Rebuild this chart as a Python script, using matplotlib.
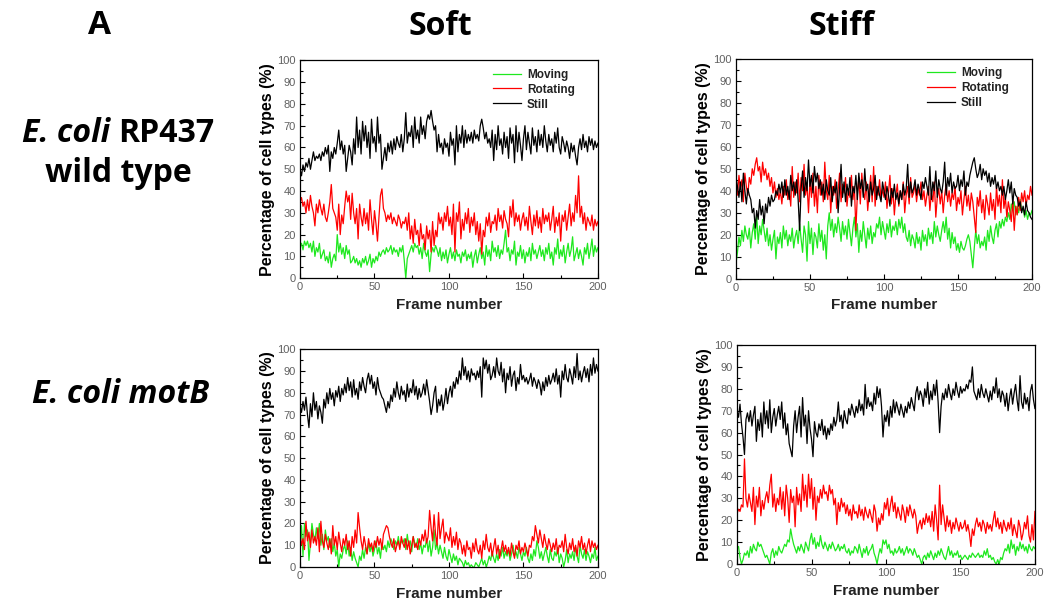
import matplotlib
matplotlib.use("Agg")
import matplotlib.pyplot as plt
import numpy as np
from matplotlib.ticker import MultipleLocator

plt.rcParams["font.family"] = ["Liberation Sans", "DejaVu Sans"]

COLORS = {"Moving": "#1ee81e", "Rotating": "#ff0000", "Still": "#000000"}

# --- Soft, E. coli RP437 wild type (frame 0..200) ---
tl_moving = [
    14, 16, 13, 17, 15, 17, 14, 16, 12, 17,
    10, 14, 12, 16, 9, 11, 13, 8, 10, 7,
    12, 5, 9, 11, 8, 20, 12, 16, 11, 14,
    9, 15, 11, 13, 7, 8, 10, 7, 9, 6,
    8, 5, 9, 7, 10, 6, 8, 11, 5, 9,
    7, 10, 8, 12, 10, 12, 13, 11, 14, 12,
    13, 15, 11, 14, 12, 13, 10, 14, 12, 15,
    8, 0, 9, 11, 13, 15, 12, 16, 14, 15,
    11, 14, 9, 16, 12, 10, 13, 3, 11, 14,
    12, 15, 13, 10, 14, 8, 12, 9, 13, 7,
    11, 14, 9, 12, 8, 13, 10, 11, 7, 12,
    10, 13, 8, 11, 9, 12, 5, 10, 13, 7,
    11, 14, 9, 12, 6, 15, 10, 13, 8, 17,
    12, 14, 10, 15, 9, 13, 11, 16, 22, 12,
    14, 8, 13, 11, 17, 6, 12, 10, 15, 9,
    13, 7, 12, 10, 14, 8, 16, 11, 13, 9,
    12, 15, 10, 13, 8, 14, 11, 16, 9, 12,
    6, 14, 11, 18, 9, 13, 10, 15, 7, 12,
    16, 10, 13, 19, 8, 11, 14, 9, 13, 10,
    6, 14, 11, 16, 9, 13, 18, 10, 15, 12,
    14,
]
tl_rotating = [
    35, 37, 33, 35, 30, 36, 31, 38, 33, 30,
    24, 34, 30, 36, 32, 29, 34, 28, 26, 30,
    35, 43, 32, 30, 28, 22, 34, 20, 29, 25,
    33, 40, 35, 38, 27, 39, 30, 25, 32, 18,
    34, 28, 24, 32, 25, 30, 22, 36, 27, 20,
    31, 25, 17, 28, 38, 41, 32, 30, 26, 29,
    27, 30, 25, 28, 26, 24, 29, 27, 23, 26,
    25, 28, 22, 30, 18, 24, 16, 27, 20, 22,
    15, 25, 18, 20, 13, 24, 18, 22, 12, 26,
    15, 22, 19, 30, 25, 28, 22, 30, 26, 33,
    24, 28, 20, 34, 12, 30, 26, 35, 18, 27,
    22, 30, 25, 32, 21, 28, 24, 30, 20, 26,
    17, 25, 11, 22, 19, 28, 24, 30, 21, 26,
    25, 29, 22, 32, 26, 29, 23, 31, 27, 25,
    19, 33, 28, 36, 24, 30, 26, 29, 22, 27,
    30, 24, 28, 22, 33, 26, 20, 29, 24, 31,
    23, 28, 21, 32, 25, 29, 26, 30, 22, 27,
    33, 21, 28, 24, 30, 17, 29, 26, 31, 22,
    28, 34, 24, 30, 26, 38, 30, 47, 28, 33,
    25, 30, 22, 28, 26, 24, 29, 22, 27, 24,
    26,
]
tl_still = [
    50, 47, 52, 49, 53, 51, 55, 50, 54, 58,
    54, 56, 55, 57, 54, 58, 56, 60, 57, 61,
    49, 58, 55, 60, 57, 62, 68, 59, 63, 57,
    61, 49, 55, 61, 58, 52, 64, 57, 74, 60,
    68, 57, 72, 63, 70, 60, 67, 55, 73, 62,
    65, 58, 74, 62, 66, 50, 55, 60, 54, 62,
    58, 63, 57, 64, 59, 65, 62, 60, 66, 58,
    64, 76, 62, 67, 65, 70, 60, 74, 64, 68,
    62, 74, 66, 70, 64, 72, 75, 73, 77, 72,
    68, 70, 58, 66, 60, 62, 57, 64, 60, 62,
    56, 67, 61, 64, 52, 70, 58, 66, 62, 70,
    60, 68, 62, 66, 63, 67, 62, 68, 64, 66,
    63, 70, 73, 69, 64, 67, 62, 64, 60, 68,
    54, 66, 59, 70, 61, 64, 57, 67, 60, 65,
    55, 69, 62, 66, 53, 70, 58, 67, 61, 54,
    64, 70, 59, 67, 62, 57, 69, 61, 65, 58,
    68, 61, 66, 60, 70, 63, 58, 66, 61, 64,
    58, 67, 62, 69, 60, 57, 65, 62, 58, 63,
    60, 55, 62, 58, 61, 56, 52, 60, 64, 59,
    66, 60, 63, 58, 65, 61, 64, 59, 63, 60,
    62,
]

# --- Stiff, E. coli RP437 wild type ---
tr_moving = [
    7, 12, 19, 15, 22, 17, 24, 20, 18, 23,
    14, 21, 25, 18, 29, 16, 24, 20, 27, 22,
    17, 23, 15, 20, 13, 18, 22, 9, 19, 16,
    21, 14, 24, 18, 22, 15, 20, 17, 23, 14,
    19, 22, 16, 25, 18, 12, 24, 20, 8, 26,
    16, 23, 11, 21, 19, 14, 25, 17, 22, 13,
    20, 9, 24, 30, 22, 27, 19, 25, 21, 28,
    23, 17, 26, 20, 24, 18, 27, 21, 15, 23,
    28, 19, 25, 12, 22, 17, 26, 20, 14, 23,
    18, 24, 16, 21, 19, 25, 23, 28, 20, 26,
    22, 18, 25, 21, 27, 19, 24, 22, 26, 20,
    27, 23, 28, 21, 25, 19, 17, 22, 15, 20,
    18, 14, 21, 16, 19, 13, 22, 17, 20, 15,
    23, 18, 21, 16, 26, 19, 24, 20, 17, 22,
    26, 21, 28, 18, 23, 14, 21, 16, 19, 13,
    16, 12, 17, 14, 13, 15, 18, 20, 17, 11,
    5, 14, 22, 16, 20, 14, 17, 15, 19, 13,
    22, 17, 24, 19, 16, 22, 25, 19, 26, 23,
    27, 24, 28, 26, 30, 27, 34, 31, 35, 29,
    33, 30, 36, 31, 32, 28, 31, 27, 30, 29,
    31,
]
tr_rotating = [
    44, 38, 47, 41, 45, 35, 48, 42, 38, 46,
    43, 50, 47, 52, 55, 49, 51, 44, 53, 47,
    50, 45, 48, 42, 46, 39, 44, 37, 41, 36,
    40, 34, 42, 38, 45, 36, 40, 33, 51, 37,
    44, 39, 48, 35, 46, 40, 52, 38, 43, 30,
    45, 37, 48, 33, 42, 30, 47, 38, 44, 35,
    53, 40, 36, 47, 30, 42, 38, 45, 32, 40,
    48, 35, 43, 39, 46, 33, 41, 37, 47, 36,
    42, 22, 38, 46, 34, 48, 40, 36, 44, 31,
    39, 47, 35, 51, 33, 42, 38, 45, 36, 41,
    37, 44, 32, 39, 47, 34, 41, 29, 38, 43,
    33, 40, 36, 44, 30, 38, 42, 34, 46, 37,
    39, 43, 35, 41, 38, 44, 36, 40, 33, 38,
    42, 31, 39, 35, 44, 28, 37, 41, 34, 40,
    30, 38, 43, 35, 40, 33, 39, 36, 42, 31,
    37, 34, 40, 29, 36, 42, 33, 38, 31, 39,
    35, 28, 21, 37, 33, 40, 30, 36, 27, 38,
    34, 29, 39, 31, 36, 27, 42, 33, 38, 30,
    45, 32, 37, 28, 35, 31, 26, 36, 22, 33,
    29, 37, 31, 39, 35, 40, 33, 38, 36, 42,
    38,
]
tr_still = [
    46, 42, 37, 44, 35, 48, 40, 34, 41, 38,
    36, 30, 32, 23, 31, 27, 36, 29, 33, 25,
    34, 30, 37, 33, 38, 35, 36, 40, 38, 43,
    39, 44, 37, 45, 38, 42, 36, 47, 40, 44,
    38, 45, 36, 22, 41, 49, 37, 46, 40, 54,
    42, 47, 39, 51, 44, 48, 41, 45, 38, 43,
    36, 45, 40, 38, 46, 35, 42, 39, 44, 30,
    41, 52, 37, 44, 35, 43, 38, 46, 33, 42,
    39, 47, 36, 48, 41, 45, 37, 50, 40, 43,
    35, 44, 38, 41, 47, 36, 42, 38, 35, 44,
    40, 36, 42, 38, 33, 41, 37, 43, 36, 39,
    34, 40, 36, 43, 38, 41, 52, 37, 44, 39,
    41, 45, 38, 43, 40, 36, 44, 41, 46, 42,
    38, 51, 36, 44, 40, 49, 37, 45, 41, 39,
    44, 53, 38, 46, 42, 48, 39, 44, 41, 42,
    47, 40, 45, 42, 49, 38, 44, 42, 47, 50,
    53, 55, 50, 46, 48, 52, 45, 50, 47, 49,
    44, 48, 42, 46, 43, 47, 41, 44, 40, 42,
    38, 42, 36, 40, 45, 39, 44, 34, 41, 38,
    37, 33, 35, 30, 33, 29, 35, 31, 30, 28,
    27,
]

# --- Soft, E. coli motB ---
bl_moving = [
    10, 19, 5, 20, 14, 17, 3, 11, 20, 15,
    12, 18, 13, 20, 10, 15, 8, 17, 12, 14,
    9, 13, 7, 11, 5, 8, 0, 6, 4, 8,
    10, 6, 12, 5, 9, 3, 7, 4, 2, 0,
    5, 3, 8, 4, 9, 6, 11, 7, 10, 5,
    8, 12, 6, 9, 4, 11, 8, 10, 7, 12,
    9, 13, 11, 8, 12, 10, 14, 9, 12, 11,
    13, 8, 15, 10, 12, 7, 14, 11, 9, 13,
    8, 11, 6, 10, 9, 13, 7, 12, 5, 9,
    17, 8, 11, 6, 10, 7, 4, 9, 5, 3,
    8, 5, 2, 6, 3, 5, 1, 4, 3, 2,
    0, 3, 1, 2, 0, 1, 0, 0, 2, 1,
    0, 2, 4, 1, 3, 0, 2, 5, 3, 7,
    4, 2, 6, 3, 8, 5, 9, 4, 7, 5,
    8, 3, 6, 10, 5, 7, 4, 9, 6, 3,
    7, 5, 9, 4, 2, 6, 3, 8, 5, 12,
    9, 4, 7, 3, 6, 9, 5, 2, 8, 4,
    3, 7, 5, 9, 2, 6, 4, 0, 3, 8,
    2, 6, 4, 7, 3, 9, 5, 2, 10, 6,
    4, 8, 3, 7, 5, 2, 6, 4, 9, 3,
    5,
]
bl_rotating = [
    15, 10, 13, 8, 21, 12, 16, 9, 17, 11,
    14, 10, 18, 7, 21, 12, 9, 15, 11, 8,
    13, 6, 19, 10, 14, 8, 16, 11, 7, 13,
    10, 15, 8, 12, 5, 14, 9, 17, 11, 25,
    18, 12, 8, 14, 10, 6, 13, 9, 11, 7,
    12, 9, 14, 10, 13, 8, 15, 17, 19, 18,
    14, 11, 9, 13, 7, 10, 12, 8, 14, 11,
    9, 13, 8, 12, 6, 10, 14, 9, 11, 8,
    13, 10, 15, 12, 17, 11, 14, 26, 18, 12,
    24, 15, 10, 25, 13, 18, 22, 11, 16, 14,
    12, 18, 9, 14, 10, 16, 8, 13, 11, 6,
    10, 5, 12, 8, 9, 4, 11, 7, 13, 8,
    6, 10, 4, 12, 8, 15, 9, 7, 11, 5,
    9, 13, 6, 10, 4, 8, 12, 7, 10, 6,
    9, 5, 11, 7, 4, 10, 8, 12, 6, 9,
    7, 11, 8, 5, 10, 9, 14, 12, 19, 15,
    11, 17, 13, 9, 15, 11, 8, 13, 10, 7,
    11, 8, 13, 6, 10, 9, 12, 7, 15, 9,
    6, 11, 8, 13, 7, 10, 5, 12, 9, 14,
    8, 11, 6, 10, 13, 7, 12, 9, 11, 8,
    10,
]
bl_still = [
    74, 71, 76, 72, 78, 70, 64, 75, 69, 80,
    72, 76, 68, 74, 71, 66, 77, 73, 80, 75,
    82, 77, 80, 74, 81, 78, 83, 76, 82, 79,
    84, 80, 87, 81, 85, 78, 86, 79, 82, 77,
    85, 81, 87, 83, 80, 86, 89, 84, 88, 82,
    85, 79, 87, 82, 80, 78, 77, 74, 71, 76,
    73, 79, 76, 82, 78, 85, 80, 77, 83, 79,
    81, 76, 84, 78, 82, 80, 86, 79, 83, 77,
    82, 78, 80, 84, 79, 86, 81, 76, 70, 74,
    80, 83, 71, 77, 74, 79, 72, 76, 82, 75,
    80, 83, 78, 85, 82, 87, 84, 90, 86, 96,
    88, 92, 86, 90, 85, 91, 88, 89, 86, 90,
    87, 92, 78, 96, 91, 95, 89, 93, 86, 88,
    92, 87, 96, 90, 88, 94, 85, 91, 80, 89,
    86, 92, 83, 88, 90, 81, 87, 84, 93, 86,
    88, 85, 87, 84, 86, 89, 83, 87, 85, 82,
    86, 84, 79, 85, 81, 87, 83, 88, 84, 86,
    89, 85, 91, 84, 88, 78, 90, 86, 93, 87,
    85, 91, 88, 84, 92, 87, 98, 86, 90, 85,
    89, 92, 87, 91, 85, 93, 88, 96, 89, 93,
    90,
]

# --- Stiff, E. coli motB ---
br_moving = [
    7, 8, 3, 0, 2, 5, 4, 6, 3, 8,
    5, 9, 7, 6, 10, 8, 9, 7, 5, 3,
    4, 2, 0, 5, 7, 3, 6, 4, 8, 6,
    5, 7, 9, 8, 11, 10, 16, 12, 9, 7,
    5, 8, 6, 9, 7, 5, 10, 8, 6, 11,
    14, 9, 12, 7, 10, 8, 13, 9, 7, 10,
    8, 6, 9, 7, 10, 8, 6, 7, 9, 6,
    8, 7, 9, 6, 5, 7, 4, 6, 5, 8,
    7, 5, 9, 6, 3, 7, 5, 8, 4, 6,
    7, 9, 5, 3, 0, 4, 7, 5, 11, 9,
    11, 7, 9, 5, 6, 4, 7, 5, 6, 8,
    5, 7, 4, 6, 8, 5, 7, 6, 4, 7,
    5, 3, 4, 2, 0, 3, 4, 2, 5, 3,
    6, 4, 2, 5, 3, 6, 4, 7, 5, 3,
    2, 5, 8, 4, 6, 3, 5, 4, 6, 3,
    4, 2, 3, 4, 3, 2, 4, 3, 5, 4,
    3, 4, 5, 3, 4, 3, 6, 4, 7, 3,
    4, 2, 3, 1, 0, 2, 0, 3, 2, 5,
    7, 6, 9, 5, 11, 7, 9, 4, 8, 6,
    10, 7, 9, 6, 8, 5, 9, 7, 6, 8,
    7,
]
br_rotating = [
    23, 25, 24, 27, 26, 48, 30, 26, 32, 28,
    24, 35, 18, 31, 26, 35, 22, 29, 25, 30,
    33, 28, 36, 41, 26, 32, 24, 30, 27, 35,
    25, 33, 22, 36, 30, 19, 34, 28, 31, 17,
    35, 27, 32, 24, 41, 29, 36, 26, 41, 30,
    39, 25, 35, 20, 31, 28, 34, 30, 36, 32,
    33, 29, 36, 32, 34, 27, 30, 18, 28, 24,
    30, 26, 28, 23, 27, 22, 25, 20, 27, 23,
    24, 21, 27, 22, 25, 20, 26, 23, 21, 25,
    22, 19, 27, 24, 15, 21, 18, 23, 20, 28,
    25, 30, 22, 27, 31, 24, 28, 21, 26, 23,
    20, 27, 24, 19, 26, 22, 27, 24, 21, 25,
    22, 14, 18, 20, 16, 21, 18, 23, 19, 22,
    17, 24, 15, 27, 20, 11, 36, 18, 27, 21,
    15, 22, 17, 20, 14, 19, 16, 21, 18, 15,
    19, 16, 17, 20, 15, 18, 14, 8, 16, 13,
    18, 21, 17, 19, 15, 20, 18, 14, 19, 16,
    18, 15, 20, 24, 17, 21, 16, 19, 14, 20,
    17, 15, 19, 16, 21, 13, 18, 15, 12, 20,
    17, 11, 14, 19, 16, 22, 13, 10, 18, 11,
    24,
]
br_still = [
    70, 67, 73, 64, 58, 50, 66, 69, 65, 70,
    63, 68, 72, 56, 66, 61, 69, 58, 74, 64,
    70, 62, 75, 60, 67, 71, 63, 68, 72, 66,
    74, 62, 69, 59, 64, 55, 52, 49, 63, 70,
    60, 67, 72, 58, 76, 63, 68, 55, 70, 62,
    57, 49, 65, 60, 58, 64, 61, 66, 59, 63,
    57, 62, 59, 64, 61, 67, 63, 66, 74, 65,
    68, 62, 70, 66, 64, 71, 68, 73, 70, 67,
    72, 69, 75, 70, 73, 68, 82, 71, 76, 72,
    74, 70, 78, 73, 81, 76, 80, 72, 58, 68,
    65, 70, 63, 72, 67, 75, 69, 74, 71, 68,
    73, 70, 67, 72, 69, 74, 71, 76, 73, 70,
    78, 81, 75, 79, 77, 72, 80, 76, 83, 73,
    79, 75, 82, 77, 84, 74, 60, 72, 78, 75,
    80, 76, 82, 78, 75, 80, 77, 83, 79, 76,
    81, 78, 80, 79, 82, 80, 84, 83, 90, 79,
    77, 75, 80, 76, 82, 78, 76, 80, 77, 74,
    79, 75, 81, 78, 85, 76, 80, 74, 79, 77,
    72, 78, 70, 76, 80, 73, 78, 82, 75, 70,
    86, 74, 71, 78, 73, 76, 70, 79, 82, 75,
    71,
]

PANELS = [
    # (axes rect in figure fraction, series, legend)
    ([0.286, 0.544, 0.284, 0.357], (tl_moving, tl_rotating, tl_still), True),
    ([0.7016, 0.543, 0.2822, 0.3607], (tr_moving, tr_rotating, tr_still), True),
    ([0.286, 0.0705, 0.284, 0.357], (bl_moving, bl_rotating, bl_still), False),
    ([0.7026, 0.0754, 0.284, 0.359], (br_moving, br_rotating, br_still), False),
]
LABELS = ["Moving", "Rotating", "Still"]

W, H = 1049, 610
HEAD_FONT = "Open Sans"


def draw_panel(fig, rect, series, legend):
    ax = fig.add_axes(rect)
    for label, y in zip(LABELS, series):
        frames = np.arange(len(y))
        ax.plot(frames, y, color=COLORS[label], linewidth=0.9, label=label)
    ax.set_xlim(0, 200)
    ax.set_ylim(0, 100)
    ax.xaxis.set_major_locator(MultipleLocator(50))
    ax.xaxis.set_minor_locator(MultipleLocator(25))
    ax.yaxis.set_major_locator(MultipleLocator(10))
    ax.yaxis.set_minor_locator(MultipleLocator(5))
    ax.tick_params(which="both", direction="in", top=False, right=False,
                   labelsize=8, labelcolor="#606060", pad=3)
    ax.tick_params(which="major", length=3.5, width=0.8)
    ax.tick_params(which="minor", length=2, width=0.8)
    for s in ax.spines.values():
        s.set_linewidth(0.9)
    ax.set_xlabel("Frame number", fontsize=11, fontweight="bold", labelpad=4,
                  color="#222222")
    ax.set_ylabel("Percentage of cell types (%)", fontsize=11.5, fontweight="bold",
                  labelpad=2)
    if legend:
        ax.legend(loc="upper right", frameon=False, handlelength=2.4,
                  labelspacing=0.25, borderaxespad=0.3, handletextpad=0.5,
                  prop={"weight": "bold", "size": 8.5}, bbox_to_anchor=(0.95, 1.0),
                  labelcolor="#222222")
    return ax


def rich_label(fig, xc, y_base, parts, size):
    # parts: list of (string, style); centred on xc px, baseline at y_base px from top
    texts = [fig.text(0, 1 - y_base / H, s, fontsize=size, fontweight="bold",
                      style=st, family=HEAD_FONT, va="baseline", ha="left")
             for s, st in parts]
    r = fig.canvas.get_renderer()
    gap = size * 0.27 * fig.dpi / 72
    widths = [t.get_window_extent(r).width for t in texts]
    total = sum(widths) + gap * (len(texts) - 1)
    x = xc - total / 2
    for t, w in zip(texts, widths):
        t.set_x(x / W)
        x += w + gap


fig = plt.figure(figsize=(W / 100, H / 100), dpi=100)
for rect, series, legend in PANELS:
    draw_panel(fig, rect, series, legend)

fig.text(100 / W, 1 - 34 / H, "A", fontsize=24, fontweight="bold",
         family=HEAD_FONT, ha="center", va="baseline")
fig.text(440 / W, 1 - 35 / H, "Soft", fontsize=23, fontweight="bold",
         family=HEAD_FONT, ha="center", va="baseline")
fig.text(841 / W, 1 - 35 / H, "Stiff", fontsize=23, fontweight="bold",
         family=HEAD_FONT, ha="center", va="baseline")
rich_label(fig, 118, 142, [("E. coli", "italic"), ("RP437", "normal")], 23)
rich_label(fig, 118, 182, [("wild type", "normal")], 23)
rich_label(fig, 121, 403, [("E. coli motB", "italic")], 23)

fig.savefig("out.png", dpi=100)
